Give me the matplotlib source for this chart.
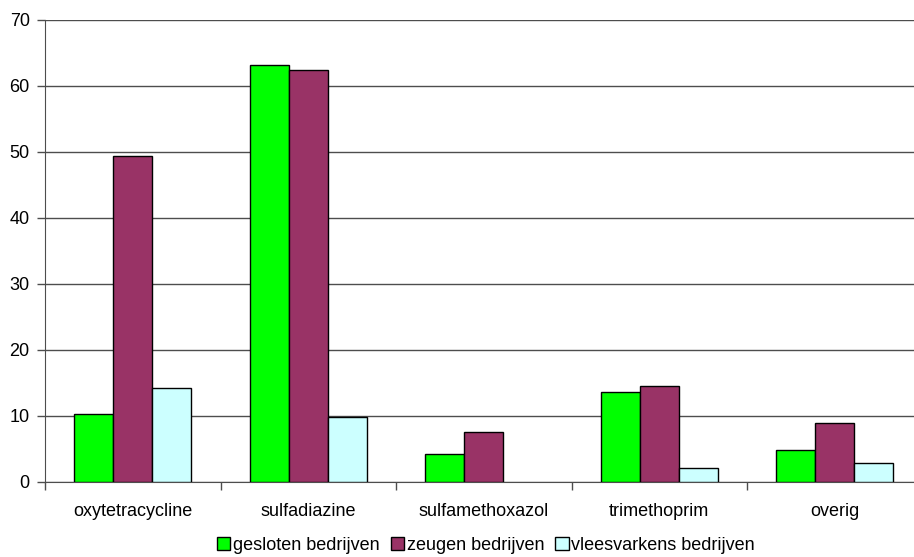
import matplotlib
matplotlib.use("Agg")
import matplotlib.pyplot as plt
import numpy as np
from matplotlib.patches import Patch

categories = ["oxytetracycline", "sulfadiazine", "sulfamethoxazol", "trimethoprim", "overig"]
series_names = ["gesloten bedrijven", "zeugen bedrijven", "vleesvarkens bedrijven"]
gesloten = [10.25, 63.2, 4.2, 13.6, 4.85]
zeugen = [49.3, 62.4, 7.5, 14.5, 9.0]
vleesvarkens = [14.2, 9.85, 0.0, 2.07, 2.9]
colors = ["#00FF00", "#993366", "#CCFFFF"]
y_ticks = [0, 10, 20, 30, 40, 50, 60, 70]

plt.rcParams["font.family"] = ["Liberation Sans", "DejaVu Sans"]
FS = 13

W, H = 914, 557
fig = plt.figure(figsize=(W / 100, H / 100), dpi=100)
left, right = 45, 922.5
top, bottom = 19.7, 482
ax = fig.add_axes([left / W, 1 - bottom / H, (right - left) / W, (bottom - top) / H])

n = len(categories)
bar_w = 1 / 4.5
x = np.arange(n)
for i, (vals, name) in enumerate(zip([gesloten, zeugen, vleesvarkens], series_names)):
    lws = [1.0 if v > 0 else 0.0 for v in vals]
    ax.bar(x + 0.75 * bar_w + i * bar_w + bar_w / 2, vals, width=bar_w, color=colors[i],
           edgecolor="black", linewidth=lws, label=name, zorder=3, align="center")

ax.set_xlim(0, n)
ax.set_ylim(0, 70)
ax.set_yticks(y_ticks)
ax.set_yticklabels([str(t) for t in y_ticks], fontsize=FS)
ax.yaxis.grid(True, color="#4d4d4d", linewidth=1.0, zorder=0)
ax.set_axisbelow(True)

# boundary ticks between categories, labels centred in each slot
ax.set_xticks(np.arange(n + 1))
ax.set_xticklabels([])
ax.set_xticks(x + 0.5, minor=True)
ax.set_xticklabels(categories, minor=True, fontsize=FS)
ax.tick_params(axis="x", which="minor", length=0, pad=15)
ax.tick_params(axis="x", which="major", direction="out", length=6, width=1, color="#4d4d4d")
ax.tick_params(axis="y", direction="out", length=6, width=1, color="#4d4d4d", pad=5)

for s in ["top", "right"]:
    ax.spines[s].set_visible(False)
ax.spines["left"].set_color("#4d4d4d")
ax.spines["bottom"].set_color("#4d4d4d")

handles = [Patch(facecolor=c, edgecolor="black", linewidth=1.0) for c in colors]
fig.legend(handles, series_names, loc="center", bbox_to_anchor=(486 / W, 1 - 545 / H),
           ncol=3, frameon=False, fontsize=FS, handlelength=0.75, handleheight=0.75,
           handletextpad=0.15, columnspacing=0.6, borderaxespad=0)

fig.savefig("out.png", dpi=100)
